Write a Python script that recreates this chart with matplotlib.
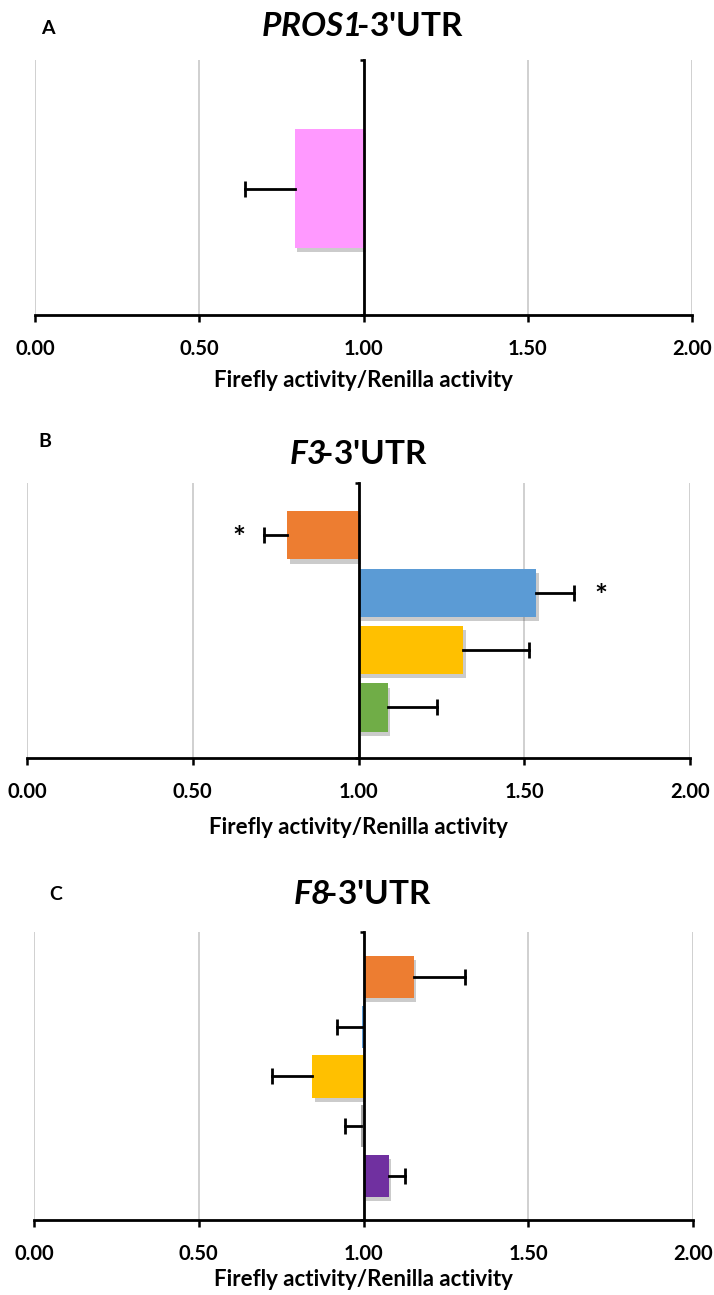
import matplotlib
matplotlib.use("Agg")
import matplotlib.pyplot as plt
import matplotlib.patheffects as pe
import numpy as np

plt.rcParams['font.family'] = ['Lato', 'DejaVu Sans']
plt.rcParams['mathtext.fontset'] = 'custom'
plt.rcParams['mathtext.bfit'] = 'Lato:italic:bold'
plt.rcParams['mathtext.rm'] = 'Lato:bold'

# data (ratio Firefly/Renilla, bars start from 1.0)
a_title = "PROS1"
a_vals = [0.79]
a_err = [0.15]
a_colors = ["#FF99FF"]

b_title = "F3"
b_vals = [0.785, 1.535, 1.315, 1.088]
b_err = [0.07, 0.115, 0.20, 0.15]
b_colors = ["#ED7D31", "#5B9BD5", "#FFC000", "#70AD47"]
b_star = [True, True, False, False]

c_title = "F8"
c_vals = [1.152, 0.996, 0.843, 0.993, 1.076]
c_err = [0.155, 0.075, 0.12, 0.048, 0.05]
c_colors = ["#ED7D31", "#5B9BD5", "#FFC000", "#A5A5A5", "#7030A0"]

xticks = [0.0, 0.5, 1.0, 1.5, 2.0]
xlabel = "Firefly activity/Renilla activity"

W, H = 714, 1295
fig = plt.figure(figsize=(W / 100, H / 100), dpi=100)


def rect(l, t, r, b):
    return [l / W, 1 - b / H, (r - l) / W, (b - t) / H]


def panel(box, vals, err, colors, height, ylim, stars=None):
    ax = fig.add_axes(rect(*box))
    y = np.arange(len(vals))
    vals = np.array(vals)
    err = np.array(err)
    bars = ax.barh(y, vals - 1, left=1, height=height, color=colors, zorder=3)
    for b in bars:
        b.set_path_effects([pe.SimplePatchShadow(offset=(2, -3), alpha=0.3, shadow_rgbFace="#555555"),
                            pe.Normal()])
    # one-sided error bars, cap only on the outer end
    for i in range(len(vals)):
        end = vals[i] - err[i] if vals[i] < 1 else vals[i] + err[i]
        ax.plot([vals[i], end], [y[i], y[i]], color="black", lw=2, zorder=4)
        ax.plot([end], [y[i]], marker="|", ms=11, mew=2, color="black", zorder=4)
        if stars is not None and stars[i]:
            x = end - 0.075 if vals[i] < 1 else end + 0.08
            ax.text(x, y[i] + 0.07, "*", ha="center", va="center", fontsize=22,
                    fontweight="bold", zorder=5)
    ax.set_xlim(0, 2)
    ax.set_ylim(*ylim)
    ax.set_xticks(xticks)
    ax.set_xticklabels(["%.2f" % t for t in xticks], fontsize=14.5, fontweight="bold")
    ax.set_yticks(list(ylim))
    ax.set_yticklabels([])
    ax.grid(axis="x", color="#c8c8c8", linewidth=1.2, zorder=0)
    ax.spines["left"].set_position(("data", 1))
    ax.spines["left"].set_linewidth(2)
    ax.spines["left"].set_zorder(5)
    ax.spines["bottom"].set_linewidth(2)
    ax.spines["top"].set_visible(False)
    ax.spines["right"].set_visible(False)
    ax.tick_params(axis="x", direction="out", length=5, width=1.8, pad=12)
    ax.tick_params(axis="y", direction="out", length=3, width=1.8)
    return ax


def title(x, y, gene):
    # italic gene name + upright "-3'UTR" in one text
    fig.text(x / W, 1 - y / H, r"$\mathbfit{%s}\!\text{-3'UTR}$" % gene,
             ha="center", va="center", fontsize=24)


def label(x, y, s, size):
    fig.text(x / W, 1 - y / H, s, fontsize=size, fontweight="bold", ha="center", va="center")


# panel A
panel((35, 60, 692, 315), a_vals, a_err, a_colors, 0.467, (0.496, -0.504))
title(362, 27, a_title)
label(48, 29, "A", 14)
label(363, 381, xlabel, 16)

# panel B
panel((27, 483, 690, 758), b_vals, b_err, b_colors, 0.84, (3.88, -0.91), stars=b_star)
title(358, 455, b_title)
label(45, 442, "B", 14)
label(358, 828, xlabel, 16)

# panel C
panel((34, 932, 693, 1220), c_vals, c_err, c_colors, 0.85, (4.89, -0.91))
title(362, 895, c_title)
label(56, 895, "C", 14)
label(363, 1280, xlabel, 16)

fig.savefig("out.png", dpi=100)
